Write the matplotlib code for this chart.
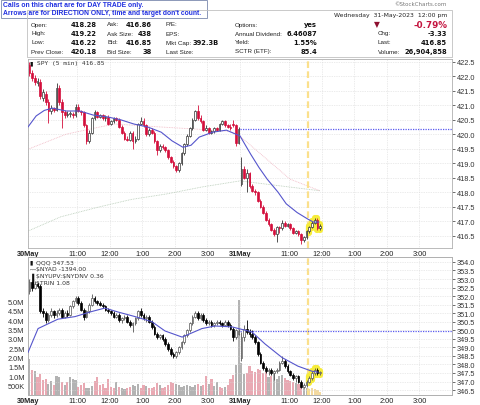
import numpy as np
import matplotlib.pyplot as plt

plt.rcParams['font.family'] = ['Liberation Sans', 'DejaVu Sans']

# SPY 5-min bars, 30 May 9:30 .. 31 May 11:55 (78 + 30 bars)
spy_open = [
    422.40, 422.10, 421.95, 421.75, 421.80, 421.25, 421.40, 421.10, 420.80, 420.90,
    420.85, 421.60, 421.10, 420.75, 420.65, 420.70, 420.70, 420.65, 420.95, 420.80,
    420.75, 420.30, 419.75, 420.05, 420.55, 420.75, 420.60, 420.65, 420.55, 420.60,
    420.35, 420.45, 420.55, 420.50, 420.25, 420.05, 419.85, 419.80, 420.05, 419.75,
    419.85, 420.35, 420.45, 420.30, 420.00, 420.15, 420.05, 419.75, 419.45, 419.60,
    419.55, 419.45, 419.20, 419.05, 418.90, 418.75, 419.00, 419.35, 419.65, 419.95,
    420.20, 420.50, 420.80, 420.55, 420.45, 420.15, 420.20, 420.05, 420.10, 420.20,
    420.15, 420.35, 420.45, 420.30, 420.25, 420.35, 420.30, 419.70,
    418.28, 418.80, 418.50, 418.65, 418.20, 418.05, 418.00, 417.70, 417.50, 417.30,
    417.05, 416.90, 416.70, 416.55, 416.80, 416.75, 416.95, 416.85, 416.90, 416.75,
    416.60, 416.65, 416.55, 416.35, 416.45, 416.65, 416.80, 416.95, 417.05, 416.75]
spy_high = [
    422.50, 422.20, 422.05, 421.95, 421.90, 421.55, 421.50, 421.20, 421.00, 420.95,
    421.75, 421.70, 421.20, 420.85, 420.80, 420.80, 420.75, 421.05, 421.05, 420.85,
    420.80, 420.35, 420.15, 420.60, 420.85, 420.80, 420.70, 420.70, 420.65, 420.65,
    420.50, 420.60, 420.60, 420.55, 420.30, 420.10, 419.95, 420.10, 420.10, 419.95,
    420.40, 420.60, 420.55, 420.35, 420.20, 420.20, 420.10, 419.80, 419.65, 419.65,
    419.60, 419.50, 419.25, 419.10, 418.95, 419.05, 419.40, 419.70, 420.00, 420.25,
    420.55, 420.85, 421.00, 420.65, 420.50, 420.30, 420.25, 420.15, 420.25, 420.25,
    420.40, 420.50, 420.50, 420.35, 420.35, 420.50, 420.35, 420.25,
    419.22, 418.90, 418.80, 418.70, 418.30, 418.10, 418.05, 417.75, 417.55, 417.35,
    417.10, 416.95, 416.75, 416.85, 416.85, 417.05, 417.00, 416.95, 416.95, 416.80,
    416.70, 416.70, 416.60, 416.50, 416.70, 416.85, 417.00, 417.10, 417.10, 416.90]
spy_low = [
    422.00, 421.85, 421.70, 421.65, 421.20, 421.15, 421.00, 420.40, 420.70, 420.75,
    420.80, 421.00, 420.20, 420.55, 420.60, 420.60, 420.55, 420.60, 420.75, 420.65,
    420.25, 419.65, 419.70, 420.00, 420.50, 420.55, 420.55, 420.50, 420.45, 420.30,
    420.30, 420.40, 420.45, 420.20, 420.00, 419.80, 419.75, 419.75, 419.50, 419.70,
    419.80, 420.30, 420.25, 419.95, 419.95, 420.00, 419.70, 419.30, 419.40, 419.50,
    419.40, 419.15, 419.00, 418.85, 418.70, 418.70, 418.95, 419.30, 419.60, 419.90,
    420.15, 420.45, 420.50, 420.40, 420.10, 420.10, 420.00, 420.00, 420.05, 420.10,
    420.10, 420.30, 420.25, 420.20, 420.15, 420.25, 419.60, 419.65,
    418.20, 418.45, 418.00, 418.15, 418.00, 417.90, 417.65, 417.45, 417.25, 417.00,
    416.85, 416.65, 416.50, 416.30, 416.60, 416.70, 416.80, 416.80, 416.70, 416.55,
    416.55, 416.50, 416.22, 416.30, 416.40, 416.60, 416.75, 416.90, 416.70, 416.70]
spy_close = [
    422.10, 421.95, 421.80, 421.85, 421.30, 421.45, 421.10, 420.80, 420.90, 420.85,
    421.60, 421.10, 420.75, 420.65, 420.70, 420.70, 420.65, 420.95, 420.80, 420.75,
    420.30, 419.75, 420.05, 420.55, 420.75, 420.60, 420.65, 420.55, 420.60, 420.35,
    420.45, 420.55, 420.50, 420.25, 420.05, 419.85, 419.80, 420.05, 419.75, 419.85,
    420.35, 420.45, 420.30, 420.00, 420.15, 420.05, 419.75, 419.45, 419.60, 419.55,
    419.45, 419.20, 419.05, 418.90, 418.75, 419.00, 419.35, 419.65, 419.95, 420.20,
    420.50, 420.80, 420.55, 420.45, 420.15, 420.20, 420.05, 420.10, 420.20, 420.15,
    420.35, 420.45, 420.30, 420.25, 420.20, 420.30, 419.70, 420.18,
    418.80, 418.50, 418.65, 418.20, 418.05, 418.00, 417.70, 417.50, 417.30, 417.05,
    416.90, 416.70, 416.55, 416.80, 416.75, 416.95, 416.85, 416.90, 416.75, 416.60,
    416.65, 416.55, 416.35, 416.45, 416.65, 416.80, 416.95, 417.05, 416.75, 416.85]

# SPY moving averages (bar index, price)
spy_sma_x = [0, 3, 6, 9, 14, 19, 24, 29, 34, 39, 44, 49, 53, 57, 60, 63, 68, 73,
             78, 82, 85, 88, 92, 95, 99, 103, 105, 107]
spy_sma = [420.25, 420.63, 420.82, 420.90, 420.80, 420.80, 420.66, 420.60, 420.50,
           420.35, 420.25, 420.07, 419.77, 419.55, 419.62, 419.90, 420.07, 420.14,
           419.94, 419.30, 418.85, 418.45, 418.00, 417.60, 417.30, 417.07, 416.97, 416.97]
spy_ma50_x = [0, 14, 26.5, 32, 48.6, 63, 74, 78, 96.4, 107.4]
spy_ma50 = [419.48, 420.00, 420.25, 420.35, 420.25, 420.17, 420.10, 419.93, 418.45, 418.05]
spy_ma200_x = [0, 12, 26.5, 38, 51, 64, 78, 107.4]
spy_ma200 = [416.66, 417.15, 417.50, 417.75, 417.94, 418.18, 418.39, 418.05]
spy_prev_close = 420.18

# QQQ 5-min bars
qqq_open = [
    352.3, 352.8, 352.5, 352.7, 352.6, 351.1, 351.0, 350.6, 350.9, 351.1,
    350.9, 351.0, 351.2, 350.8, 351.0, 350.9, 351.4, 351.7, 351.9, 351.6,
    351.2, 350.8, 351.1, 351.5, 351.9, 351.7, 351.6, 351.5, 351.4, 351.2,
    351.1, 351.0, 350.8, 350.9, 350.6, 350.7, 350.8, 350.5, 350.3, 350.4,
    350.7, 351.1, 350.9, 350.7, 350.8, 350.5, 350.2, 349.8, 349.6, 349.7,
    349.5, 349.2, 348.9, 348.6, 348.5, 348.7, 349.0, 349.3, 349.7, 350.0,
    350.4, 350.8, 351.0, 350.7, 350.9, 350.6, 350.4, 350.5, 350.3, 350.4,
    350.5, 350.4, 350.3, 350.5, 350.3, 350.1, 349.6, 349.8,
    348.4, 349.6, 350.1, 349.9, 349.8, 349.6, 349.3, 348.6, 348.1, 347.8,
    347.6, 347.7, 347.5, 347.6, 347.7, 348.1, 348.2, 347.9, 347.6, 347.4,
    347.2, 347.3, 347.0, 346.7, 346.8, 347.0, 347.2, 347.5, 347.7, 347.5]
qqq_high = [
    353.0, 352.9, 352.9, 352.8, 352.7, 351.3, 351.1, 351.0, 351.3, 351.2,
    351.2, 351.3, 351.3, 351.1, 351.2, 351.5, 351.8, 352.0, 352.0, 351.7,
    351.3, 351.2, 351.6, 352.1, 352.0, 351.8, 351.7, 351.6, 351.5, 351.3,
    351.2, 351.1, 351.0, 351.0, 350.8, 350.9, 350.9, 350.6, 350.5, 350.8,
    351.2, 351.3, 351.0, 350.9, 350.9, 350.6, 350.3, 349.9, 349.8, 349.8,
    349.6, 349.3, 349.0, 348.7, 348.8, 349.1, 349.4, 349.8, 350.1, 350.5,
    350.9, 351.1, 351.1, 351.0, 351.0, 350.7, 350.6, 350.6, 350.5, 350.6,
    350.6, 350.5, 350.6, 350.6, 350.4, 350.2, 350.1, 350.1,
    349.9, 350.3, 350.6, 350.1, 350.0, 349.7, 349.4, 348.7, 348.2, 347.9,
    347.8, 347.8, 347.7, 347.8, 348.2, 348.5, 348.3, 348.0, 347.7, 347.5,
    347.4, 347.4, 347.1, 346.9, 347.1, 347.3, 347.6, 347.8, 347.8, 347.6]
qqq_low = [
    352.1, 352.3, 352.4, 352.5, 351.0, 350.8, 350.4, 350.5, 350.8, 350.7,
    350.8, 350.9, 350.7, 350.7, 350.8, 350.85, 351.3, 351.6, 351.5, 351.1,
    350.6, 350.7, 351.0, 351.4, 351.6, 351.5, 351.4, 351.3, 351.1, 351.0,
    350.9, 350.7, 350.7, 350.5, 350.4, 350.6, 350.4, 350.2, 349.9, 350.3,
    350.6, 350.8, 350.6, 350.5, 350.4, 350.1, 349.7, 349.5, 349.5, 349.4,
    349.1, 348.8, 348.5, 348.4, 348.4, 348.6, 348.9, 349.2, 349.6, 349.9,
    350.3, 350.7, 350.6, 350.6, 350.5, 350.3, 350.3, 350.2, 350.2, 350.3,
    350.3, 350.2, 350.25, 350.2, 350.0, 349.4, 349.5, 349.75,
    348.2, 349.4, 349.8, 349.6, 349.5, 349.2, 348.5, 348.0, 347.7, 347.5,
    347.4, 347.4, 347.1, 347.5, 347.6, 348.0, 347.8, 347.5, 347.3, 347.1,
    347.0, 346.9, 346.6, 346.6, 346.7, 346.9, 347.1, 347.4, 347.4, 347.4]
qqq_close = [
    352.8, 352.5, 352.7, 352.6, 351.1, 351.0, 350.6, 350.9, 351.1, 350.9,
    351.0, 351.2, 350.8, 351.0, 350.9, 351.4, 351.7, 351.9, 351.6, 351.2,
    350.8, 351.1, 351.5, 351.9, 351.7, 351.6, 351.5, 351.4, 351.2, 351.1,
    351.0, 350.8, 350.9, 350.6, 350.7, 350.8, 350.5, 350.3, 350.4, 350.7,
    351.1, 350.9, 350.7, 350.8, 350.5, 350.2, 349.8, 349.6, 349.7, 349.5,
    349.2, 348.9, 348.6, 348.5, 348.7, 349.0, 349.3, 349.7, 350.0, 350.4,
    350.8, 351.0, 350.7, 350.9, 350.6, 350.4, 350.5, 350.3, 350.4, 350.5,
    350.4, 350.3, 350.5, 350.3, 350.1, 349.6, 350.0, 349.97,
    349.6, 350.1, 349.9, 349.8, 349.6, 349.3, 348.6, 348.1, 347.8, 347.6,
    347.7, 347.5, 347.6, 347.7, 348.1, 348.2, 347.9, 347.6, 347.4, 347.2,
    347.3, 347.0, 346.7, 346.8, 347.0, 347.2, 347.5, 347.7, 347.5, 347.53]
# QQQ volume, millions of shares per bar
qqq_volume = [
    1.95, 1.35, 1.30, 0.95, 1.10, 0.80, 0.85, 0.60, 0.75, 0.55,
    1.00, 0.95, 0.70, 0.55, 0.70, 0.95, 0.85, 0.80, 0.45, 0.55,
    0.65, 0.40, 0.35, 0.50, 0.75, 0.95, 0.55, 0.60, 0.40, 0.85,
    0.45, 0.35, 0.70, 0.45, 0.40, 0.30, 0.35, 0.45, 0.55, 0.50,
    0.60, 0.40, 0.55, 0.50, 0.35, 0.40, 0.45, 0.65, 0.55, 0.40,
    0.45, 0.55, 0.70, 0.65, 0.60, 0.55, 0.45, 0.50, 0.55, 0.50,
    0.45, 0.55, 0.60, 0.50, 0.55, 1.00, 0.60, 0.85, 0.50, 0.70,
    0.45, 0.40, 0.45, 0.55, 0.85, 1.05, 1.60, 5.10,
    1.70, 1.10, 1.20, 1.55, 1.30, 1.25, 1.40, 1.35, 1.20, 1.25,
    0.95, 1.00, 1.10, 0.85, 1.00, 1.05, 0.90, 0.80, 0.75, 0.70,
    0.65, 0.60, 0.55, 0.45, 0.40, 0.30, 0.35, 0.30, 0.25, 0.15]
qqq_sma_x = [0, 3.7, 11, 17.3, 23.5, 28.3, 33.1, 39.4, 45.6, 50.4, 56.7, 64, 68.8,
             75, 82.4, 87.2, 93.5, 99.3, 104.5, 106.7]
qqq_sma = [348.7, 350.1, 350.65, 350.8, 351.1, 351.3, 351.07, 350.8, 350.5, 349.96,
           349.6, 350.1, 350.25, 350.2, 349.9, 349.2, 348.4, 347.9, 347.6, 347.55]
qqq_prev_close = 349.97

tick_pos = [0, 18, 30, 42, 54, 66, 78, 96, 108, 120, 132, 144]
tick_lab = ['30May', '11:00', '12:00', '1:00', '2:00', '3:00',
            '31May', '11:00', '12:00', '1:00', '2:00', '3:00']
marker_bar = 103          # yellow "now" line
n_highlight = 5           # last bars glowing yellow

W, H = 480, 406
fig = plt.figure(figsize=(4.8, 4.06), dpi=100)


def fx(x):
    return x / W


def fy(y):
    return 1 - y / H


def candles(ax, o, h, l, c, up_col, dn_col, dn_face):
    o, h, l, c = map(np.asarray, (o, h, l, c))
    x = np.arange(len(c)) + 0.5
    up = c >= o
    # yellow glow on the latest bars
    k = slice(len(c) - n_highlight, len(c))
    ax.vlines(x[k], l[k], h[k], color='#f6ec3a', lw=4.5, zorder=2, capstyle='round')
    ax.vlines(x[up], l[up], h[up], color=up_col, lw=0.6, zorder=3)
    ax.vlines(x[~up], l[~up], h[~up], color=dn_col, lw=0.6, zorder=3)
    lo = np.minimum(o, c)
    hh = np.maximum(np.abs(c - o), 0.015)
    ax.bar(x[up], hh[up], 0.62, bottom=lo[up], color='white', edgecolor=up_col, lw=0.5, zorder=4)
    ax.bar(x[~up], hh[~up], 0.62, bottom=lo[~up], color=dn_face, edgecolor=dn_col, lw=0.5, zorder=4)


def style(ax):
    for s in ax.spines.values():
        s.set_color('#b0b0b0')
        s.set_linewidth(0.6)
    ax.set_xlim(0, 156)
    ax.set_xticks(tick_pos)
    ax.set_xticklabels(tick_lab)
    ax.tick_params(axis='x', length=0, pad=1.5, labelsize=5.3, colors='#222')
    for t in ax.get_xticklabels():
        if 'May' in t.get_text():
            t.set_fontweight('bold')
    ax.grid(True, axis='x', color='#d8d8d8', ls=(0, (1, 1.5)), lw=0.5)


# ---------- top panel: SPY ----------
ax1 = fig.add_axes([fx(28), fy(249), (452 - 28) / W, (249 - 60) / H])
style(ax1)
ax1.grid(True, axis='y', color='#d8d8d8', ls=(0, (1, 1.5)), lw=0.5)
ax1.set_axisbelow(True)
ax1.set_ylim(416.076, 422.593)
ax1.set_yticks(np.arange(416.5, 422.51, 0.5))
ax1.yaxis.tick_right()
ax1.tick_params(axis='y', length=2.5, width=0.5, pad=1, labelsize=5.3, colors='#333')
ax1.plot(spy_ma200_x, spy_ma200, color='#b8ccb8', lw=0.6, ls=(0, (1, 1)), zorder=1)
ax1.plot(spy_ma50_x, spy_ma50, color='#f0b8c4', lw=0.6, ls=(0, (1, 1)), zorder=1)
ax1.axvline(marker_bar, color='#fbe08c', lw=1.6, ls=(0, (3, 1.5)), zorder=1)
ax1.hlines(spy_prev_close, 78, 156, color='#5a5af0', lw=0.9, ls=(0, (1, 1)), zorder=1)
candles(ax1, spy_open, spy_high, spy_low, spy_close, '#333333', '#d40f3c', '#d40f3c')
ax1.plot(spy_sma_x, spy_sma, color='#5555cc', lw=0.8, zorder=5)
ax1.text(0.004, 0.995, '\u25AE', transform=ax1.transAxes, fontsize=4.5,
         va='top', ha='left', color='#111')
ax1.text(0.022, 0.995, 'SPY (5 min) 416.85', transform=ax1.transAxes, fontsize=4.4,
         va='top', ha='left', color='#333', family='DejaVu Sans Mono')

# ---------- bottom panel: QQQ + volume ----------
ax2 = fig.add_axes([fx(28), fy(396), (452 - 28) / W, (396 - 258) / H])
style(ax2)
x = np.arange(len(qqq_volume)) + 0.5
vcol = ['#b3b3b3' if c >= o else '#e9a9b3' for o, c in zip(qqq_open, qqq_close)]
for i in range(len(vcol) - n_highlight, len(vcol)):
    vcol[i] = '#f3d9a0'
ax2.bar(x, qqq_volume, 0.8, color=vcol, zorder=2)
ax2.set_ylim(0, 7.38)
ax2.set_yticks([0.5, 1, 1.5, 2, 2.5, 3, 3.5, 4, 4.5, 5])
ax2.set_yticklabels(['500K', '1.0M', '1.5M', '2.0M', '2.5M', '3.0M',
                     '3.5M', '4.0M', '4.5M', '5.0M'])
ax2.tick_params(axis='y', length=0, pad=2.5, labelsize=5.3, colors='#333')

ax2q = ax2.twinx()
for s in ax2q.spines.values():
    s.set_color('#b0b0b0')
    s.set_linewidth(0.6)
ax2q.set_ylim(346.21, 354.29)
ax2q.set_yticks(np.arange(346.5, 354.01, 0.5))
ax2q.tick_params(axis='y', length=2.5, width=0.5, pad=1, labelsize=5.3, colors='#333')
ax2q.grid(True, axis='y', color='#d8d8d8', ls=(0, (1, 1.5)), lw=0.5, zorder=0)
ax2q.axvline(marker_bar, color='#fbe08c', lw=1.6, ls=(0, (3, 1.5)), zorder=1)
ax2q.hlines(qqq_prev_close, 78, 156, color='#5a5af0', lw=0.9, ls=(0, (1, 1)), zorder=1)
candles(ax2q, qqq_open, qqq_high, qqq_low, qqq_close, '#555555', '#000000', '#000000')
ax2q.plot(qqq_sma_x, qqq_sma, color='#5555cc', lw=0.8, zorder=5)

legend = [('\u25AE', 'QQQ 347.53'), ('\u2014', '\\$NYAD -1394.00'),
          ('\u2590', '\\$NYUPV:\\$NYDNV 0.36'), ('\u2590', '\\$TRIN 1.08')]
for i, (ic, txt) in enumerate(legend):
    yy = 0.985 - i * 0.05
    ax2q.text(0.004, yy, ic, transform=ax2q.transAxes, fontsize=4.3, va='top', color='#111')
    ax2q.text(0.02, yy, txt, transform=ax2q.transAxes, fontsize=4.4, va='top', color='#333',
              family='DejaVu Sans')

# ---------- header ----------
box = plt.Rectangle((fx(0.5), fy(19)), (207 - 0.5) / W, 18.5 / H, transform=fig.transFigure,
                    fill=False, edgecolor='#8c98b8', lw=0.7)
fig.patches.append(box)
fig.text(fx(3), fy(5.5), 'Calls on this chart are for DAY TRADE only.', fontsize=4.85,
         fontweight='bold', color='#1f2fe0', va='center')
fig.text(fx(3), fy(13.5), "Arrows are for DIRECTION ONLY, time and target don't count.",
         fontsize=4.85, fontweight='bold', color='#1f2fe0', va='center')

tbl = plt.Rectangle((fx(27), fy(58)), (452 - 27) / W, (58 - 11) / H, transform=fig.transFigure,
                    fill=False, edgecolor='#c0c0c0', lw=0.6)
fig.patches.append(tbl)
fig.text(fx(447), fy(5), '\u00A9StockCharts.com', fontsize=4, color='#777', ha='right',
         va='center', family='DejaVu Sans')
fig.text(fx(447), fy(16), 'Wednesday  31-May-2023  12:00 pm', fontsize=4.4, color='#222',
         ha='right', va='center', family='DejaVu Sans')

rows_y = [25, 34, 43, 52]
columns = [
    (31, 97, ['Open:', 'High:', 'Low:', 'Prev Close:'],
     ['418.28', '419.22', '416.22', '420.18']),
    (107, 152, ['Ask:', 'Ask Size:', 'Bid:', 'Bid Size:'],
     ['416.86', '438', '416.85', '38']),
    (166, 219, ['P/E:', 'EPS:', 'Mkt Cap:', 'Last Size:'],
     ['', '', '392.3B', '']),
    (235, 317, ['Options:', 'Annual Dividend:', 'Yield:', 'SCTR (ETF):'],
     ['yes', '6.46087', '1.55%', '85.4']),
    (378, 447, ['', 'Chg:', 'Last:', 'Volume:'],
     ['', '-3.33', '416.85', '26,904,858']),
]
for lx, vx, labels, values in columns:
    for yy, lab, val in zip(rows_y, labels, values):
        fig.text(fx(lx), fy(yy), lab, fontsize=4.5, color='#222', va='center')
        fig.text(fx(vx), fy(yy), val, fontsize=4.9, color='#111', va='center', ha='right',
                 fontweight='bold', family='DejaVu Sans')
fig.text(fx(377), fy(25), '\u25BC', fontsize=5.5, color='#8e1030', va='center', ha='center',
         family='DejaVu Sans')
fig.text(fx(447), fy(25), '-0.79%', fontsize=6.3, color='#c4143f', va='center', ha='right',
         fontweight='bold', family='DejaVu Sans')

fig.savefig('out.png', dpi=100)
